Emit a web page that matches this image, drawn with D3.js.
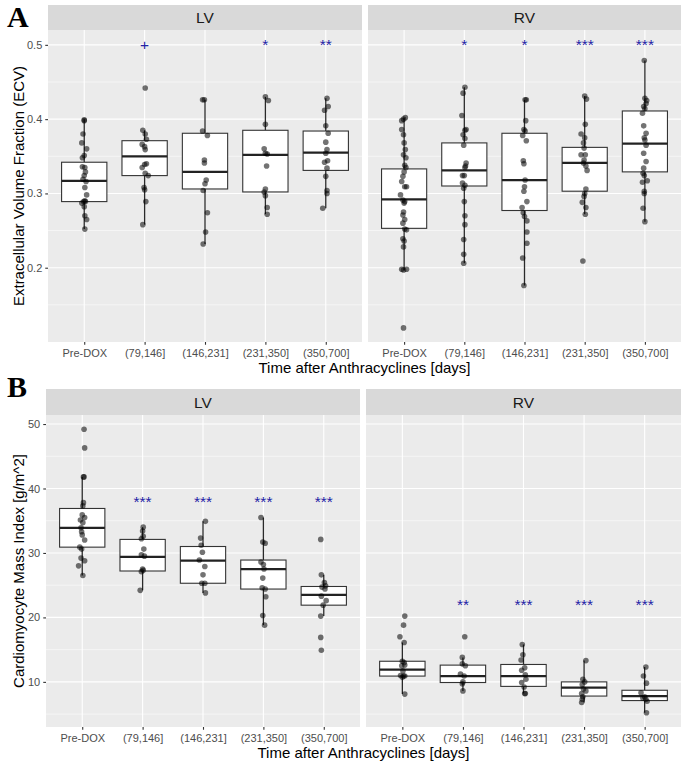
<!DOCTYPE html>
<html>
<head>
<meta charset="utf-8">
<script src="https://cdn.jsdelivr.net/npm/d3@7/dist/d3.min.js"></script>
<style>
  body { margin: 0; background: #fff; }
  svg { display: block; font-family: "Liberation Sans", Arial, sans-serif; }
</style>
</head>
<body>
<div id="chart"><svg class="diagram"></svg></div>
<script>

var categories = ["Pre-DOX", "(79,146]", "(146,231]", "(231,350]", "(350,700]"];

// ---- A : extracellular volume fraction, points are [value, jitter]
var ecvLvPoints = [
  [[.399,0],[.398,0],[.380,-.02],[.368,-.04],[.360,.04],[.348,-.03],[.351,0],[.336,-.03],[.335,.01],[.329,.02],[.324,0],[.319,-.02],[.316,.03],[.308,.01],[.298,.04],[.290,.01],[.289,-.01],[.289,.02],[.287,-.04],[.282,0],[.270,.01],[.265,.04],[.252,.01]],
  [[.442,.01],[.385,-.03],[.380,.01],[.373,.03],[.366,-.04],[.363,0],[.359,.01],[.340,.03],[.339,0],[.335,-.04],[.327,.01],[.324,.06],[.308,-.01],[.305,0],[.289,.02],[.258,-.03]],
  [[.426,-.04],[.426,-.01],[.384,-.04],[.378,.04],[.345,-.01],[.341,-.01],[.318,.02],[.313,0],[.304,-.03],[.274,.04],[.248,.01],[.232,-.03]],
  [[.430,0],[.425,.05],[.393,0],[.360,-.02],[.353,.03],[.354,0],[.337,.02],[.306,0],[.302,-.02],[.297,0],[.281,.03],[.272,.03]],
  [[.428,.02],[.417,.04],[.412,-.02],[.391,0],[.381,.04],[.369,0],[.359,.02],[.354,0],[.344,.03],[.342,-.02],[.334,.02],[.323,0],[.304,.02],[.300,.02],[.280,-.05]]
];
var ecvRvPoints = [
  [[.402,.02],[.400,-.01],[.398,-.04],[.386,-.04],[.379,-.01],[.368,0],[.359,.02],[.352,-.01],[.348,.03],[.338,.01],[.335,.03],[.329,0],[.323,-.02],[.316,-.04],[.309,.01],[.309,.04],[.298,-.06],[.291,-.02],[.287,0],[.289,.01],[.275,-.01],[.271,-.02],[.265,.01],[.251,.04],[.260,-.02],[.252,.01],[.239,-.02],[.236,0],[.228,-.01],[.198,-.04],[.197,-.01],[.198,.04],[.119,-.01]],
  [[.443,.01],[.435,-.02],[.405,-.04],[.386,.03],[.385,.01],[.379,-.02],[.374,.01],[.365,-.01],[.341,.03],[.337,.02],[.335,.01],[.324,-.03],[.324,0],[.314,-.03],[.311,.01],[.307,-.01],[.289,0],[.270,.01],[.258,.01],[.238,-.01],[.218,-.01],[.206,-.01]],
  [[.426,.03],[.426,.01],[.398,.02],[.386,-.01],[.384,.01],[.378,-.03],[.371,.03],[.344,-.02],[.340,-.01],[.318,.01],[.309,0],[.303,-.01],[.289,.04],[.281,-.04],[.274,-.02],[.269,0],[.263,.04],[.248,.04],[.233,.04],[.213,-.03],[.176,-.01]],
  [[.431,0],[.427,.03],[.393,.01],[.380,-.06],[.375,0],[.368,-.02],[.361,-.01],[.352,-.06],[.352,.01],[.345,-.01],[.341,-.02],[.337,.02],[.331,.04],[.306,.02],[.300,0],[.296,-.01],[.288,-.04],[.281,.02],[.272,.01],[.209,-.03]],
  [[.479,-.01],[.428,0],[.425,.03],[.421,.02],[.417,-.02],[.414,0],[.408,-.04],[.391,-.02],[.381,.02],[.375,-.01],[.372,0],[.365,.02],[.354,-.02],[.343,.02],[.334,-.02],[.327,-.03],[.324,-.01],[.317,.04],[.315,-.04],[.303,-.01],[.300,-.01],[.280,-.03],[.262,0]]
];
// [lower whisker, q1, median, q3, upper whisker]
var ecvLvBoxes = [[.252,.289,.317,.342,.400],[.258,.324,.350,.371,.385],[.232,.306,.329,.381,.426],[.272,.302,.352,.385,.430],[.280,.331,.355,.384,.428]];
var ecvRvBoxes = [[.197,.253,.292,.333,.402],[.206,.310,.331,.368,.443],[.176,.277,.318,.381,.426],[.272,.303,.341,.362,.431],[.262,.329,.367,.411,.479]];
var ecvLvStars = ["", "+", "", "*", "**"];
var ecvRvStars = ["", "*", "*", "***", "***"];
var ecvTicks = [0.2, 0.3, 0.4, 0.5];
var ecvMinor = [0.15, 0.25, 0.35, 0.45];

// ---- B : cardiomyocyte mass index
var cmiLvPoints = [
  [[49.2,.03],[46.3,.04],[41.8,.02],[41.8,.03],[37.8,.02],[37.3,.01],[35.9,0],[35.5,.04],[35.1,-.03],[34.7,.01],[33.9,-.02],[33.3,-.01],[32.8,0],[32.0,.04],[30.9,-.04],[30.6,-.01],[29.2,-.02],[28.8,.04],[28.0,-.06],[26.5,.01]],
  [[34.0,.01],[33.4,0],[32.2,-.02],[32.6,.01],[30.6,.02],[29.7,-.02],[29.5,.03],[27.5,0],[27.1,-.02],[27.3,.01],[24.2,-.04]],
  [[34.9,.04],[32.3,-.04],[31.2,-.03],[30.1,-.01],[28.9,-.06],[27.9,.03],[26.6,0],[25.3,-.02],[25.3,.03],[23.8,.04]],
  [[35.5,-.04],[31.7,-.01],[31.5,.03],[28.6,-.04],[28.2,0],[27.5,.01],[26.1,-.01],[24.6,-.02],[24.4,.03],[23.2,.04],[20.3,-.01],[18.8,.02]],
  [[32.1,-.05],[26.6,-.04],[25.4,.01],[24.9,.03],[24.7,-.03],[24.4,.02],[23.3,-.04],[22.6,.04],[21.9,-.01],[20.2,-.05],[16.9,-.05],[14.9,-.04]]
];
var cmiRvPoints = [
  [[20.2,.04],[18.8,.02],[17.0,-.04],[16.1,.03],[13.2,0],[13.0,.03],[12.6,.04],[12.5,-.01],[11.7,.01],[11.0,-.03],[10.9,.02],[10.7,0],[10.9,.04],[8.1,.04]],
  [[17.0,.03],[13.8,-.01],[12.8,-.01],[12.5,.04],[11.2,-.04],[10.9,.02],[10.0,0],[9.7,-.01],[8.6,0]],
  [[15.8,-.02],[14.2,-.01],[13.4,-.04],[12.2,.02],[11.8,-.03],[11.1,.03],[10.4,.04],[9.9,-.03],[9.2,.01],[8.2,.02],[8.2,.03]],
  [[13.3,.03],[10.4,-.02],[10.0,.01],[9.6,-.03],[8.9,-.01],[8.6,.03],[8.2,-.04],[7.7,-.02],[7.3,-.03],[6.8,-.04]],
  [[12.3,.02],[10.9,-.02],[9.8,.03],[8.3,-.06],[7.7,0],[7.5,-.03],[7.3,.02],[7.0,.04],[5.2,.03]]
];
var cmiLvBoxes = [[26.5,30.9,33.9,36.9,41.8],[24.2,27.2,29.4,32.1,34.0],[23.8,25.3,28.8,31.0,34.9],[18.8,24.4,27.5,28.9,35.5],[20.2,21.9,23.5,24.8,26.6]];
var cmiRvBoxes = [[8.1,10.9,11.9,13.2,16.1],[8.6,9.9,10.9,12.6,13.8],[8.2,9.3,10.9,12.7,15.8],[6.8,7.8,9.1,10.0,13.3],[5.2,7.1,7.8,8.7,12.3]];
var cmiLvStars = ["", "***", "***", "***", "***"];
var cmiRvStars = ["", "**", "***", "***", "***"];
var cmiTicks = [10, 20, 30, 40, 50];
var cmiMinor = [5, 15, 25, 35, 45];

/***********************************************************************************************************/

function drawFacet(svg, f) {
    var g = svg.append("g");
    var x = d3.scalePoint().domain(categories).range([f.left, f.right]).padding(0.6);
    var y = d3.scaleLinear().domain(f.domain).range([f.bottom, f.top]);
    var step = x.step();

    // strip
    g.append("rect").attr("x", f.left).attr("y", f.stripTop)
      .attr("width", f.right - f.left).attr("height", f.top - f.stripTop)
      .attr("fill", "#d9d9d9");
    g.append("text").attr("x", (f.left + f.right) / 2).attr("y", (f.stripTop + f.top) / 2)
      .attr("text-anchor", "middle").attr("dominant-baseline", "central")
      .style("font-size", "15.5px").style("fill", "#1a1a1a")
      .text(f.label);

    // panel + grid
    g.append("rect").attr("x", f.left).attr("y", f.top)
      .attr("width", f.right - f.left).attr("height", f.bottom - f.top)
      .attr("fill", "#ebebeb");
    g.selectAll(".minor").data(f.minor).enter().append("line")
      .attr("x1", f.left).attr("x2", f.right)
      .attr("y1", function(d){ return y(d); }).attr("y2", function(d){ return y(d); })
      .attr("stroke", "#fff").attr("stroke-width", 0.55);
    g.selectAll(".major").data(f.ticks).enter().append("line")
      .attr("x1", f.left).attr("x2", f.right)
      .attr("y1", function(d){ return y(d); }).attr("y2", function(d){ return y(d); })
      .attr("stroke", "#fff").attr("stroke-width", 1.1);
    g.selectAll(".vgrid").data(categories).enter().append("line")
      .attr("x1", function(d){ return x(d); }).attr("x2", function(d){ return x(d); })
      .attr("y1", f.top).attr("y2", f.bottom)
      .attr("stroke", "#fff").attr("stroke-width", 1.1);

    // boxes
    var bw = step * 0.75;
    var box = g.selectAll(".box").data(f.boxes).enter().append("g");
    box.append("line")
      .attr("x1", function(d, i){ return x(categories[i]); }).attr("x2", function(d, i){ return x(categories[i]); })
      .attr("y1", function(d){ return y(d[0]); }).attr("y2", function(d){ return y(d[1]); })
      .attr("stroke", "#2a2a2a").attr("stroke-width", 1.3);
    box.append("line")
      .attr("x1", function(d, i){ return x(categories[i]); }).attr("x2", function(d, i){ return x(categories[i]); })
      .attr("y1", function(d){ return y(d[3]); }).attr("y2", function(d){ return y(d[4]); })
      .attr("stroke", "#2a2a2a").attr("stroke-width", 1.3);
    box.append("rect")
      .attr("x", function(d, i){ return x(categories[i]) - bw / 2; })
      .attr("y", function(d){ return y(d[3]); })
      .attr("width", bw)
      .attr("height", function(d){ return y(d[1]) - y(d[3]); })
      .attr("fill", "#fff").attr("stroke", "#333").attr("stroke-width", 1.1);
    box.append("line")
      .attr("x1", function(d, i){ return x(categories[i]) - bw / 2; })
      .attr("x2", function(d, i){ return x(categories[i]) + bw / 2; })
      .attr("y1", function(d){ return y(d[2]); }).attr("y2", function(d){ return y(d[2]); })
      .attr("stroke", "#222").attr("stroke-width", 2.2);

    // jittered points
    var pts = [];
    f.points.forEach(function(list, i){
        list.forEach(function(p){ pts.push({cat: categories[i], v: p[0], dx: p[1]}); });
    });
    g.selectAll(".pt").data(pts).enter().append("circle")
      .attr("cx", function(d){ return x(d.cat) + d.dx * step; })
      .attr("cy", function(d){ return y(d.v); })
      .attr("r", 2.8)
      .attr("fill", "#000").attr("fill-opacity", 0.55);

    // significance marks
    g.selectAll(".star").data(f.stars).enter().append("text")
      .attr("x", function(d, i){ return x(categories[i]); })
      .attr("y", y(f.starY))
      .attr("text-anchor", "middle").attr("dominant-baseline", "central")
      .style("font-size", "15.5px").style("fill", "#2323a6")
      .text(function(d){ return d; });

    // x axis
    var xa = g.append("g").attr("transform", "translate(0," + f.bottom + ")")
      .call(d3.axisBottom(x).tickSize(2.75).tickPadding(4));
    styleAxis(xa);

    if (f.showY) {
        var ya = g.append("g").attr("transform", "translate(" + f.left + ",0)")
          .call(d3.axisLeft(y).tickValues(f.ticks).tickFormat(f.fmt).tickSize(2.75).tickPadding(3));
        styleAxis(ya);
    }
}

function styleAxis(a) {
    a.select(".domain").remove();
    a.selectAll(".tick line").attr("stroke", "#333").attr("stroke-width", 1.1);
    a.selectAll(".tick text").style("font-size", "11px").style("fill", "#4d4d4d")
      .style("font-family", "'Liberation Sans', Arial, sans-serif");
}

function drawRow(svg, r) {
    drawFacet(svg, {left: r.left, right: r.split, stripTop: r.stripTop, top: r.top, bottom: r.bottom,
        domain: r.domain, ticks: r.ticks, minor: r.minor, fmt: r.fmt, label: "LV",
        points: r.lv, boxes: r.lvBoxes, stars: r.lvStars, starY: r.lvStarY, showY: true});
    drawFacet(svg, {left: r.split + 6, right: 681, stripTop: r.stripTop, top: r.top, bottom: r.bottom,
        domain: r.domain, ticks: r.ticks, minor: r.minor, fmt: r.fmt, label: "RV",
        points: r.rv, boxes: r.rvBoxes, stars: r.rvStars, starY: r.rvStarY, showY: false});

    svg.append("text").attr("x", (r.left + 681) / 2).attr("y", r.bottom + 31)
      .attr("text-anchor", "middle").style("font-size", "15px").style("fill", "#000")
      .text("Time after Anthracyclines [days]");
    svg.append("text")
      .attr("transform", "translate(18," + ((r.top + r.bottom) / 2) + ") rotate(-90)")
      .attr("text-anchor", "middle").attr("dominant-baseline", "central")
      .style("font-size", "15px").style("fill", "#000")
      .text(r.yTitle);
    svg.append("text").attr("x", 7).attr("y", r.letterY)
      .style("font-family", "'Liberation Serif', 'Times New Roman', serif")
      .style("font-weight", "bold").style("font-size", "30px").style("fill", "#000")
      .text(r.letter);
}

function drawChart(mydiv) {
    var div = d3.select("#" + mydiv);
    var svg = div.select("svg");
    svg.attr("width", 685).attr("height", 765);
    svg.append("rect").attr("width", 685).attr("height", 765).attr("fill", "#fff");

    drawRow(svg, {left: 48, split: 362, stripTop: 5, top: 30, bottom: 342,
        domain: [0.1, 0.52], ticks: ecvTicks, minor: ecvMinor, fmt: d3.format(".1f"),
        lv: ecvLvPoints, lvBoxes: ecvLvBoxes, lvStars: ecvLvStars, lvStarY: 0.5,
        rv: ecvRvPoints, rvBoxes: ecvRvBoxes, rvStars: ecvRvStars, rvStarY: 0.5,
        yTitle: "Extracellular Volume Fraction (ECV)", letter: "A", letterY: 27});

    drawRow(svg, {left: 46, split: 360, stripTop: 389, top: 415, bottom: 727,
        domain: [3.0, 51.4], ticks: cmiTicks, minor: cmiMinor, fmt: d3.format("d"),
        lv: cmiLvPoints, lvBoxes: cmiLvBoxes, lvStars: cmiLvStars, lvStarY: 38,
        rv: cmiRvPoints, rvBoxes: cmiRvBoxes, rvStars: cmiRvStars, rvStarY: 22,
        yTitle: "Cardiomyocyte Mass Index [g/m^2]", letter: "B", letterY: 397});
}

drawChart("chart");

</script>
</body>
</html>
